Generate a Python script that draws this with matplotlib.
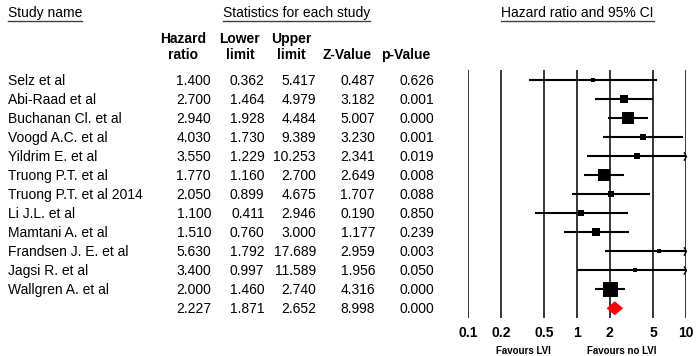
import matplotlib
matplotlib.use("Agg")
import matplotlib.pyplot as plt
import matplotlib.transforms as mtransforms
from matplotlib.path import Path
import numpy as np

plt.rcParams['font.family'] = ['Liberation Sans', 'DejaVu Sans']

studies = ["Selz et al", "Abi-Raad et al", "Buchanan Cl. et al", "Voogd A.C. et al",
           "Yildrim E. et al", "Truong P.T. et al", "Truong P.T. et al 2014", "Li J.L. et al",
           "Mamtani A. et al", "Frandsen J. E. et al", "Jagsi R. et al", "Wallgren A. et al"]
hr = [1.400, 2.700, 2.940, 4.030, 3.550, 1.770, 2.050, 1.100, 1.510, 5.630, 3.400, 2.000]
lower = [0.362, 1.464, 1.928, 1.730, 1.229, 1.160, 0.899, 0.411, 0.760, 1.792, 0.997, 1.460]
upper = [5.417, 4.979, 4.484, 9.389, 10.253, 2.700, 4.675, 2.946, 3.000, 17.689, 11.589, 2.740]
zval = [0.487, 3.182, 5.007, 3.230, 2.341, 2.649, 1.707, 0.190, 1.177, 2.959, 1.956, 4.316]
pval = [0.626, 0.001, 0.000, 0.001, 0.019, 0.008, 0.088, 0.850, 0.239, 0.003, 0.050, 0.000]
weights = [2.5, 7.9, 17.8, 4.5, 3.1, 17.8, 4.5, 3.1, 6.1, 2.5, 2.5, 27.8]

pooled = {"hr": 2.227, "lower": 1.871, "upper": 2.652, "z": 8.998, "p": 0.000}

ticks = [0.1, 0.2, 0.5, 1, 2, 5, 10]
tick_labels = ["0.1", "0.2", "0.5", "1", "2", "5", "10"]

W, H = 698, 356
fig = plt.figure(figsize=(W / 100, H / 100), dpi=100)


def fx(px):
    return px / W


def fy(py):
    return 1 - py / H


# forest axes, pixel box 468.3..685.7 x 70..318.3
ax = fig.add_axes([fx(468.3), fy(318.3), fx(685.7) - fx(468.3), (318.3 - 70) / H])
ax.set_xscale("log")
ax.set_xlim(0.1, 10)
n = len(studies)
ax.set_ylim(n + 0.526, -0.526)
for s in ax.spines.values():
    s.set_visible(False)
ax.set_yticks([])
ax.set_xticks(ticks)
ax.set_xticklabels(tick_labels, fontsize=10, fontweight="bold")
ax.minorticks_off()
ax.tick_params(axis="x", length=0, pad=5.5)
ax.grid(axis="x", color="black", lw=1.1)
ax.set_axisbelow(True)

chevron = Path([(-0.6, 1.0), (0.0, 0.0), (-0.6, -1.0)],
               [Path.MOVETO, Path.LINETO, Path.LINETO])

for i in range(n):
    hi = min(upper[i], 10)
    ax.plot([lower[i], hi], [i, i], color="black", lw=1.5, solid_capstyle="butt", zorder=3)
    side = 15 * np.sqrt(weights[i] / max(weights))
    ax.plot(hr[i], i, marker="s", color="black", markersize=side * 0.72,
            markeredgewidth=0, zorder=4)
    if upper[i] > 10:
        ax.plot(10, i, marker=chevron, markersize=6, color="black", fillstyle="none",
                markeredgewidth=1.0, zorder=4, clip_on=False)

# pooled diamond
yd = n
ax.fill([pooled["lower"], pooled["hr"], pooled["upper"], pooled["hr"]],
        [yd, yd - 0.37, yd, yd + 0.37], color="#ff0000", lw=0, zorder=4)

# table text
trans = mtransforms.blended_transform_factory(fig.transFigure, ax.transData)
fs = 10
col_right = [211, 264.5, 316, 375, 434]
rows = [(studies[i], hr[i], lower[i], upper[i], zval[i], pval[i]) for i in range(n)]
rows.append(("", pooled["hr"], pooled["lower"], pooled["upper"], pooled["z"], pooled["p"]))
for i, r in enumerate(rows):
    y = i + 0.25
    fig.text(fx(8), y, r[0], transform=trans, fontsize=fs, va="baseline", ha="left")
    for j, v in enumerate(r[1:]):
        fig.text(fx(col_right[j]), y, "%.3f" % v, transform=trans, fontsize=fs,
                 va="baseline", ha="right")

# column headers
head_x = [183, 240, 291.5, 347.5, 405.5]
head_top = ["Hazard", "Lower", "Upper", "", ""]
head_bot = ["ratio", "limit", "limit", "Z-Value", "p-Value"]
for x, t, b in zip(head_x, head_top, head_bot):
    if t:
        fig.text(fx(x), fy(42.7), t, fontsize=fs, fontweight="bold", ha="center", va="baseline")
    fig.text(fx(x), fy(59), b, fontsize=fs, fontweight="bold", ha="center", va="baseline")

# underlined titles
titles = [
    fig.text(fx(8), fy(16.7), "Study name", fontsize=fs, ha="left", va="baseline"),
    fig.text(fx(296.5), fy(16.7), "Statistics for each study", fontsize=fs, ha="center", va="baseline"),
    fig.text(fx(577.5), fy(16.7), "Hazard ratio and 95% CI", fontsize=fs, ha="center", va="baseline"),
]
fig.canvas.draw()
renderer = fig.canvas.get_renderer()
for t in titles:
    bb = t.get_window_extent(renderer)
    fig.add_artist(plt.Line2D([fx(bb.x0), fx(bb.x1)], [fy(20.8), fy(20.8)],
                              transform=fig.transFigure, color="#404040", lw=1.0))

# favours labels
fig.text(fx(523), fy(354), "Favours LVI", fontsize=7, fontweight="bold", ha="center", va="baseline")
fig.text(fx(622), fy(354), "Favours no LVI", fontsize=7, fontweight="bold", ha="center", va="baseline")

fig.savefig("out.png", dpi=100)
